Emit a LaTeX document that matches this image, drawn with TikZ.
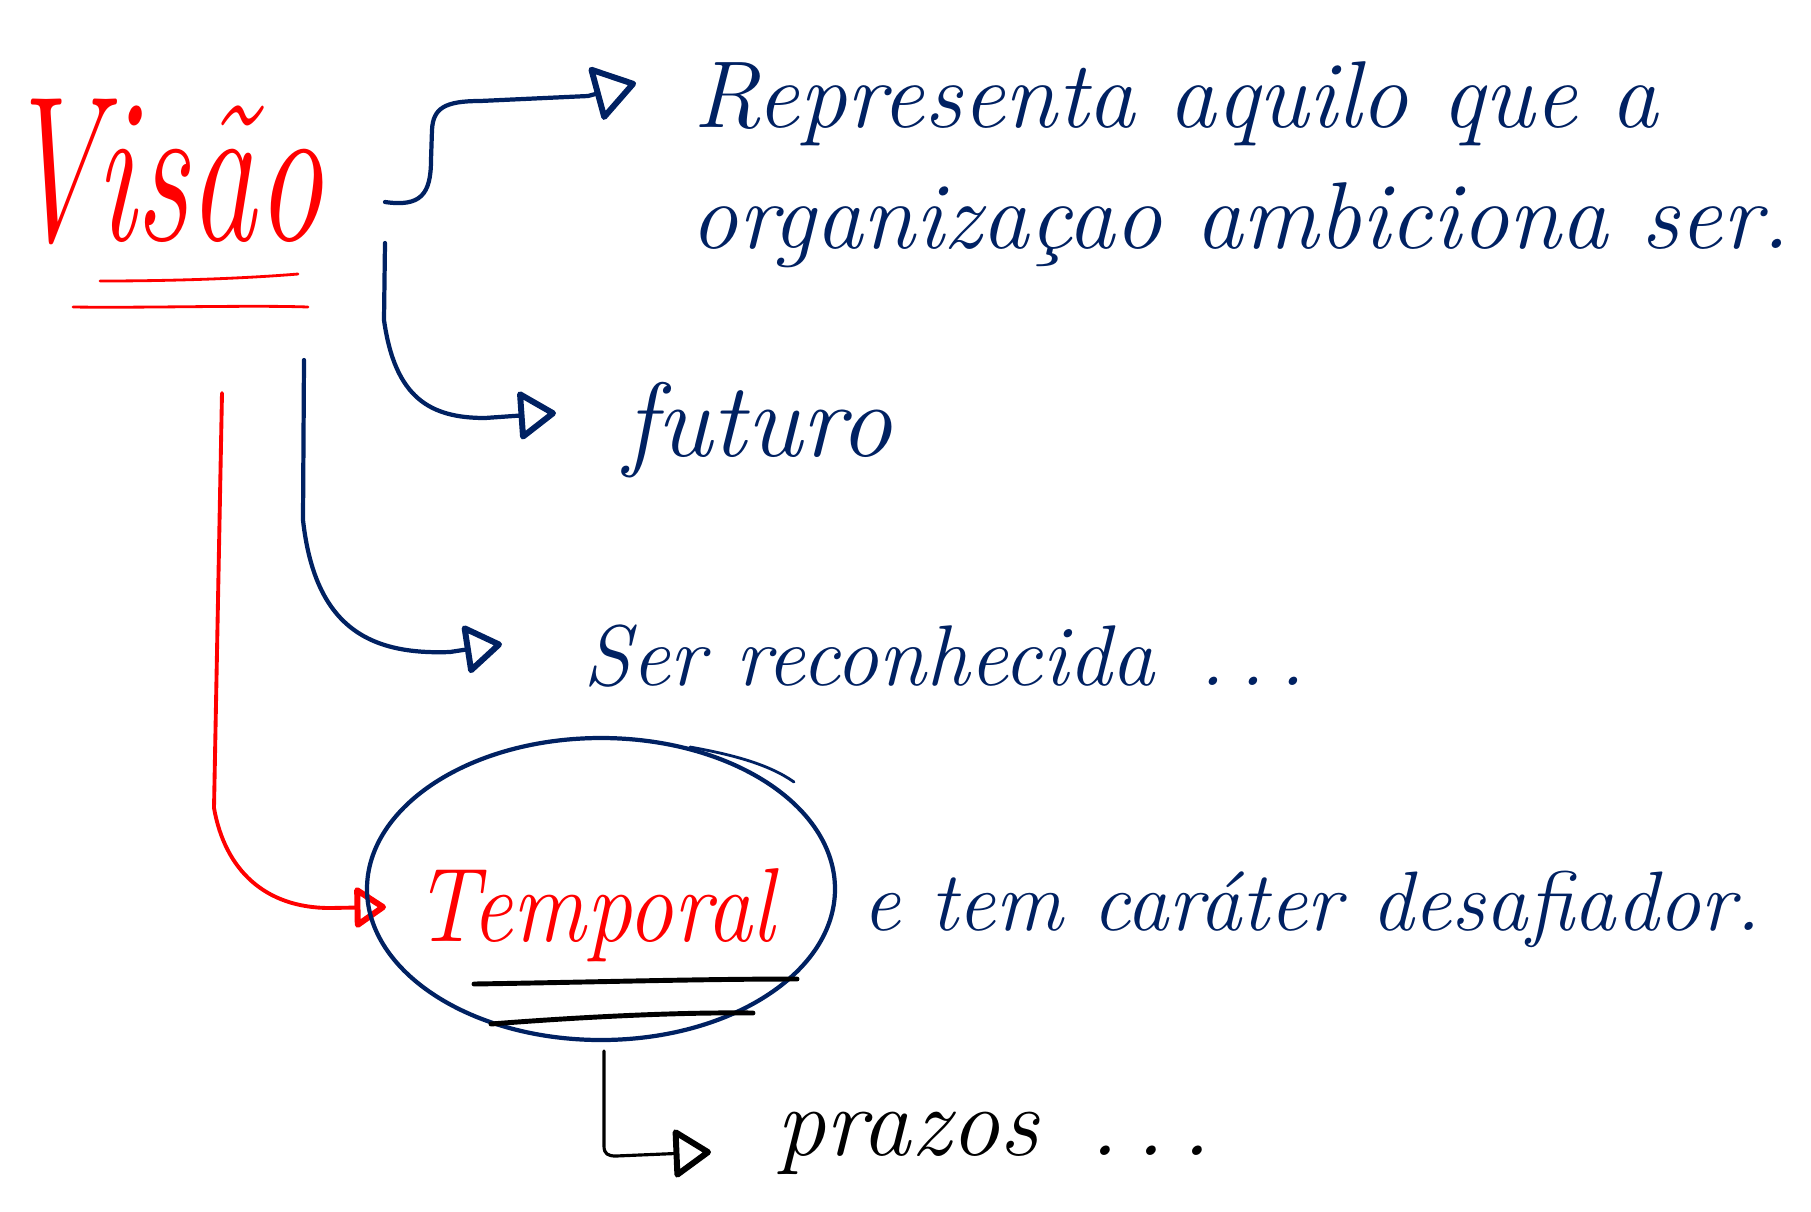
\documentclass[tikz,border=0pt]{standalone}
\usetikzlibrary{arrows.meta}
\definecolor{navy}{RGB}{0,33,98}
\definecolor{vred}{RGB}{255,0,0}
\tikzset{
  txt/.style={inner sep=0pt, anchor=base west, font=\itshape},
  navyline/.style={draw=navy, line width=1.2pt, line cap=round, line join=round},
  redline/.style={draw=vred, line width=1.1pt, line cap=round, line join=round},
  blackline/.style={draw=black, line width=0.9pt, line cap=round, line join=round},
  tipA/.style={-{Triangle[open, length=#1, width=1.3*#1, line width=1.7pt, round]}},
}
\begin{document}
\begin{tikzpicture}[x=0.01cm, y=-0.01cm]
\path[use as bounding box, fill=white] (0,0) rectangle (1811,1211);

% texts
\node[txt, text=vred, font=\itshape\fontsize{38}{42}\selectfont] (visao) at (3,240) {\scalebox{1}[1.55]{Visão}};
\node[txt, text=navy, font=\itshape\fontsize{27}{31}\selectfont] (rep1) at (693,127) {Representa aquilo que a};
\node[txt, text=navy, font=\itshape\fontsize{27}{31}\selectfont] (rep2) at (690,248) {organizaçao ambiciona ser.};
\node[txt, text=navy, font=\itshape\fontsize{30}{34}\selectfont] (futuro) at (624,456) {futuro};
\node[txt, text=navy, font=\itshape\fontsize{24.5}{28}\selectfont] (ser) at (583,685) {Ser reconhecida\, .\,.\,.};
\node[txt, text=vred, font=\itshape\fontsize{26}{30}\selectfont] (temporal) at (414,941) {\scalebox{1}[1.15]{Temporal}};
\node[txt, text=navy, font=\itshape\fontsize{24}{28}\selectfont] (carater) at (862,930) {e tem caráter desafiador.};
\node[txt, text=black, font=\itshape\fontsize{28}{32}\selectfont] (prazos) at (776,1155) {prazos\, .\,.\,.};

% underlines of Visao
\coordinate (u1a) at (100,281); \coordinate (u1b) at (298,274);
\coordinate (u2a) at (73,307);  \coordinate (u2b) at (308,307);
\draw[redline, line width=0.8pt] (u1a) .. controls (180,281) and (250,278) .. (u1b);
\draw[redline, line width=0.8pt] (u2a) .. controls (150,308) and (250,305) .. (u2b);

% connector 1
\coordinate (c1s) at (385,202);
\coordinate (c1e) at (636,83);
\draw[navyline, tipA=0.45cm] (c1s) .. controls (420,207) and (431,195) .. (431,160)
  -- (432,130) .. controls (433,108) and (445,101) .. (480,101) -- (588,96) -- (c1e);

% connector 2
\coordinate (c2s) at (385,243);
\coordinate (c2e) at (556,413);
\draw[navyline, tipA=0.4cm] (c2s) -- (384,320) .. controls (395,398) and (430,418) .. (485,418) -- (c2e);

% connector 3
\coordinate (c3s) at (304,360);
\coordinate (c3e) at (502,644);
\draw[navyline, tipA=0.4cm] (c3s) -- (303,520) .. controls (315,628) and (370,655) .. (450,652) -- (c3e);

% red connector
\coordinate (c4s) at (222,393);
\coordinate (c4e) at (386,907);
\draw[redline, tipA=0.34cm] (c4s) -- (214,808) .. controls (225,870) and (265,908) .. (330,908) -- (c4e);

% ellipse round Temporal
\coordinate (ellc) at (601,889);
\draw[navyline] (ellc) ellipse [x radius=234, y radius=151];
\draw[draw=navy, line width=0.8pt, line cap=round] (690,747) .. controls (735,755) and (770,765) .. (794,782);

% black underlines in ellipse
\coordinate (b1a) at (474,984); \coordinate (b1b) at (797,979);
\coordinate (b2a) at (491,1024); \coordinate (b2b) at (753,1013);
\draw[blackline, line width=1.4pt] (b1a) .. controls (600,982) and (700,979) .. (b1b);
\draw[blackline, line width=1.4pt] (b2a) .. controls (580,1017) and (680,1012) .. (b2b);

% black connector
\coordinate (c5s) at (604,1051);
\coordinate (c5e) at (711,1152);
\draw[blackline, tipA=0.4cm] (c5s) -- (604,1146) .. controls (604,1154) and (608,1156) .. (616,1156) -- (c5e);
\end{tikzpicture}
\end{document}
